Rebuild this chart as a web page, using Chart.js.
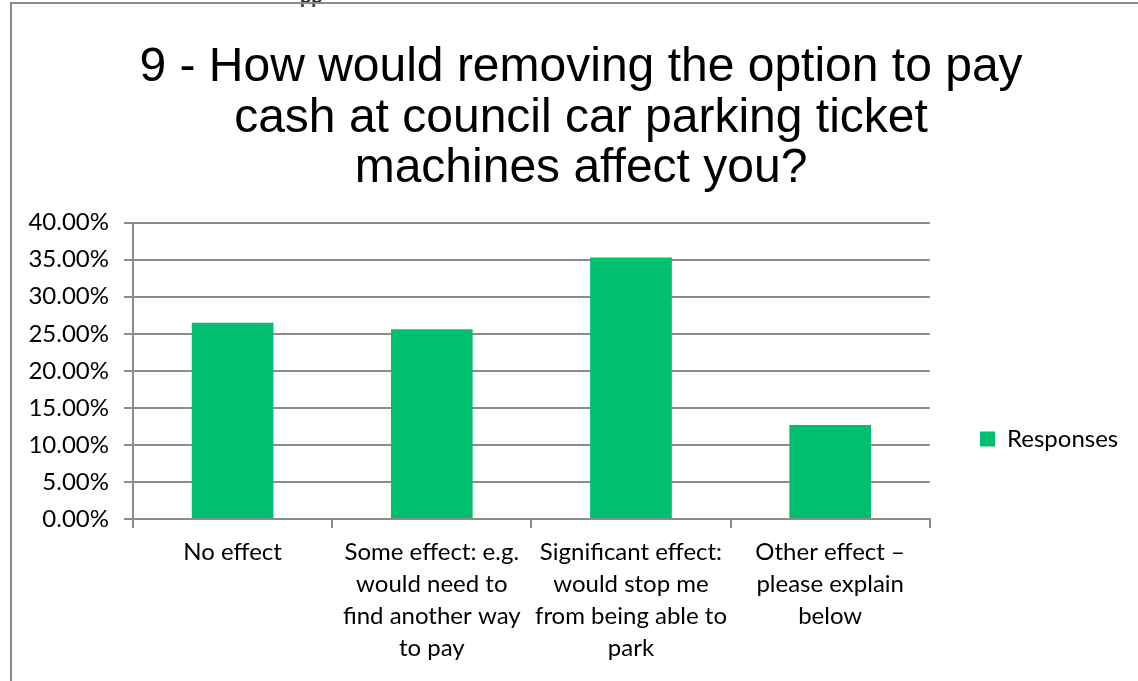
<!DOCTYPE html>
<html>
<head>
<meta charset="utf-8">
<script src="https://cdn.jsdelivr.net/npm/chart.js@4"></script>
<style>
  html, body { margin: 0; padding: 0; background: #fff; overflow: hidden; }
  #wrap { position: relative; width: 1138px; height: 681px; }
  #frame {
    position: absolute; left: 10px; top: 2px; width: 1200px; height: 800px;
    border-left: 2px solid #8a8a8a; border-top: 2px solid #8a8a8a;
    pointer-events: none;
  }
  #cut {
    position: absolute; left: 300px; top: -17px;
    font: bold 20px Lato, sans-serif; color: #333;
  }
</style>
</head>
<body>
<div id="wrap">
  <canvas id="chart" width="1138" height="681"></canvas>
  <div id="cut">pp</div>
  <div id="frame"></div>
</div>
<script>
// chart data
const titleLines = [
  "9 - How would removing the option to pay",
  "cash at council car parking ticket",
  "machines affect you?"
];
const categories = [
  ["No effect"],
  ["Some effect: e.g.", "would need to", "find another way", "to pay"],
  ["Significant effect:", "would stop me", "from being able to", "park"],
  ["Other effect \u2013", "please explain", "below"]
];
const seriesName = "Responses";
const responses = [0.265, 0.256, 0.353, 0.127];
const yMin = 0;
const yMax = 0.4;
const yStep = 0.05;

const green = "#00BF6F";
const gridGray = "#8c8c8c";
const labelFont = { family: "Lato, 'Open Sans', sans-serif", size: 24, lineHeight: "32px" };
const legendPad = 84;

// move legend box to where the original has it
const legendSpot = {
  id: "legendSpot",
  afterLayout(chart) {
    const lg = chart.legend;
    if (!lg) return;
    const dx = (980 - legendPad) - lg.left;
    const dy = 439 - (lg.top + lg.bottom) / 2;
    lg.left += dx; lg.right += dx;
    lg.top += dy; lg.bottom += dy;
  }
};

const ctx = document.getElementById("chart").getContext("2d");
new Chart(ctx, {
  type: "bar",
  data: {
    labels: categories,
    datasets: [{
      label: seriesName,
      data: responses,
      backgroundColor: green,
      borderWidth: 0,
      categoryPercentage: 1,
      barPercentage: 0.41
    }]
  },
  options: {
    responsive: false,
    animation: false,
    layout: { padding: { left: 0, right: -24, top: 0, bottom: 0 } },
    plugins: {
      title: {
        display: true,
        text: titleLines,
        color: "#000",
        font: { family: "'Liberation Sans', Arial, sans-serif", size: 48, weight: "normal", lineHeight: 1.06 },
        padding: { top: 42, bottom: 28 }
      },
      legend: {
        position: "right",
        fullSize: false,
        labels: {
          color: "#000",
          font: labelFont,
          boxWidth: 15,
          boxHeight: 15,
          padding: legendPad
        }
      },
      tooltip: { enabled: false }
    },
    scales: {
      x: {
        grid: {
          offset: true,
          drawOnChartArea: false,
          drawTicks: true,
          tickLength: 9,
          color: gridGray,
          lineWidth: 2
        },
        border: { color: gridGray, width: 2 },
        ticks: {
          color: "#000",
          font: labelFont,
          padding: 8,
          maxRotation: 0,
          autoSkip: false
        },
        afterFit(scale) { scale.height = 162; }
      },
      y: {
        min: yMin,
        max: yMax,
        grid: {
          color: gridGray,
          lineWidth: 2,
          tickLength: 9
        },
        border: { color: gridGray, width: 2 },
        ticks: {
          stepSize: yStep,
          color: "#000",
          font: labelFont,
          padding: 15,
          callback: v => (v * 100).toFixed(2) + "%"
        },
        afterFit(scale) { scale.width = 133; }
      }
    }
  },
  plugins: [legendSpot]
});
</script>
</body>
</html>
